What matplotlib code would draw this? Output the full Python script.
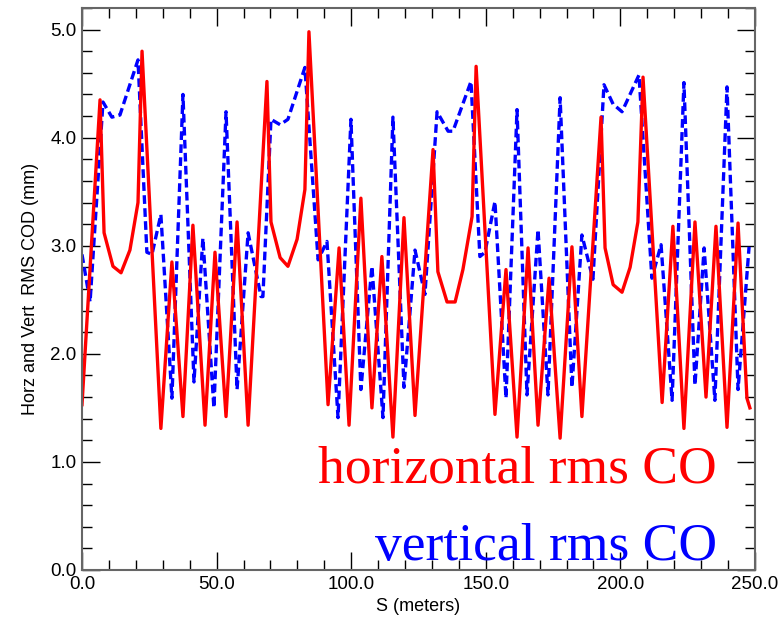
import matplotlib
matplotlib.use("Agg")
import matplotlib.pyplot as plt
from matplotlib.ticker import MultipleLocator, FormatStrFormatter

s_horz = [0.0, 6.7, 8.2, 11.5, 14.5, 17.8, 20.8, 22.3, 29.3, 33.4, 37.5, 41.2, 45.7, 49.4,
          53.5, 57.6, 61.7, 68.7, 70.2, 73.6, 76.5, 79.9, 82.8, 84.3, 91.4, 95.5, 99.2,
          103.6, 107.7, 111.4, 115.5, 119.6, 123.7, 130.4, 132.2, 135.6, 138.6, 141.5,
          144.9, 146.4, 153.4, 157.5, 161.6, 165.7, 169.4, 173.5, 177.6, 182.0, 185.7,
          192.8, 194.3, 197.3, 200.6, 203.6, 206.5, 208.4, 215.5, 219.5, 223.6, 227.7,
          231.8, 235.5, 239.6, 243.7, 247.0, 248.1]
rms_horz = [1.53, 4.35, 3.12, 2.81, 2.75, 2.96, 3.40, 4.80, 1.31, 2.85, 1.42, 3.19, 1.34, 2.94,
            1.42, 3.22, 1.34, 4.52, 3.22, 2.89, 2.81, 3.06, 3.52, 4.98, 1.53, 2.98, 1.34,
            3.44, 1.50, 2.90, 1.23, 3.26, 1.43, 3.89, 2.76, 2.48, 2.48, 2.78,
            3.27, 4.66, 1.44, 2.78, 1.23, 2.98, 1.34, 2.70, 1.22, 2.99, 1.42,
            4.19, 2.98, 2.64, 2.57, 2.80, 3.22, 4.56, 1.55, 3.18, 1.31, 3.22,
            1.60, 3.18, 1.32, 3.21, 1.59, 1.50]

s_vert = [0.0, 3.0, 7.8, 11.1, 14.1, 20.8, 24.1, 26.0, 29.3, 33.4, 37.5, 41.6, 44.9, 49.0,
          53.5, 57.6, 61.7, 66.5, 67.2, 70.2, 73.6, 76.5, 82.8, 87.7, 91.0, 95.1, 99.9,
          103.6, 107.7, 111.8, 115.5, 119.6, 123.7, 127.4, 131.9, 136.0, 137.8, 144.5,
          147.8, 149.7, 153.4, 157.5, 161.6, 165.3, 169.4, 173.1, 177.6, 182.0, 185.7,
          189.8, 193.9, 197.3, 200.6, 206.9, 211.7, 215.1, 219.2, 223.6, 227.7, 231.1,
          235.1, 239.6, 243.7, 247.8]
rms_vert = [2.92, 2.48, 4.33, 4.19, 4.21, 4.72, 2.94, 2.92, 3.29, 1.59, 4.40, 1.74, 3.07, 1.50,
            4.24, 1.67, 3.12, 2.53, 2.53, 4.17, 4.12, 4.17, 4.65, 2.87, 3.04, 1.41, 4.17,
            1.67, 2.81, 1.41, 4.19, 1.69, 2.96, 2.55, 4.24, 4.06, 4.06, 4.52,
            2.90, 2.94, 3.41, 1.59, 4.26, 1.62, 3.15, 1.62, 4.37, 1.69, 3.10,
            2.69, 4.49, 4.31, 4.24, 4.58, 2.70, 3.01, 1.57, 4.51, 1.71, 2.98,
            1.57, 4.47, 1.67, 2.99]

label_horz = "horizontal rms CO"
label_vert = "vertical rms CO"
xlabel = "S (meters)"
ylabel = "Horz and Vert  RMS COD (mm)"

sans = ["Liberation Sans Narrow", "Liberation Sans", "DejaVu Sans"]

fig = plt.figure(figsize=(7.8, 6.26), dpi=100)
ax = fig.add_axes([82/780, 56/626, 673/780, 562/626])

ax.plot(s_vert, rms_vert, color="#0000ff", lw=2.4, ls=(0, (2.6, 1.3)))
ax.plot(s_horz, rms_horz, color="#ff0000", lw=2.4)

ax.set_xlim(0, 250)
ax.set_ylim(0, 5.2)
ax.xaxis.set_major_locator(MultipleLocator(50))
ax.xaxis.set_minor_locator(MultipleLocator(10))
ax.yaxis.set_major_locator(MultipleLocator(1))
ax.yaxis.set_minor_locator(MultipleLocator(0.2))
ax.xaxis.set_major_formatter(FormatStrFormatter("%.1f"))
ax.yaxis.set_major_formatter(FormatStrFormatter("%.1f"))
ax.tick_params(which="both", direction="in", top=True, right=True, color="black", width=1)
ax.tick_params(which="major", length=13, labelsize=13.5, pad=4)
ax.tick_params(which="minor", length=7)
for sp in ax.spines.values():
    sp.set_color("#666666")
    sp.set_linewidth(1.5)
for lab in ax.get_xticklabels() + ax.get_yticklabels():
    lab.set_family(sans)

ax.set_xlabel(xlabel, family=sans, fontsize=13, labelpad=4)
ax.set_ylabel(ylabel, family=sans, fontsize=13, labelpad=8)

ax.text(0.943, 0.155, label_horz, transform=ax.transAxes, ha="right", va="baseline",
        color="#ff0000", fontsize=38.5, family=["Liberation Serif", "DejaVu Serif"])
ax.text(0.943, 0.018, label_vert, transform=ax.transAxes, ha="right", va="baseline",
        color="#0000ff", fontsize=38.5, family=["Liberation Serif", "DejaVu Serif"])

fig.savefig("out.png", dpi=100)
